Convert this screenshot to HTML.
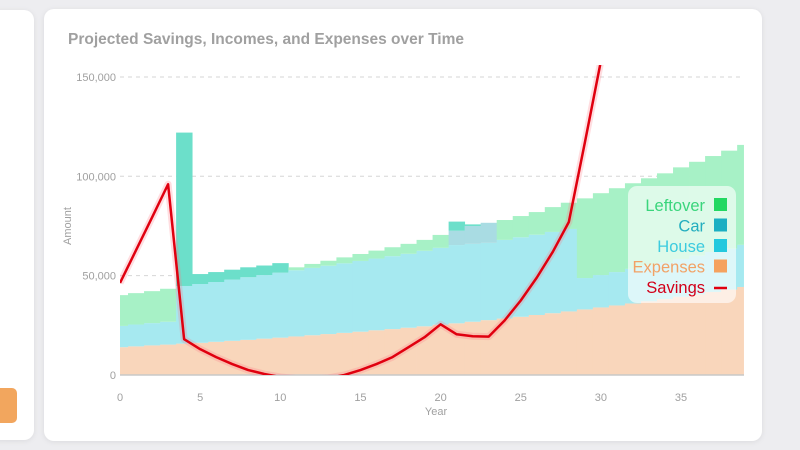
<!DOCTYPE html>
<html><head><meta charset="utf-8"><style>
html,body{margin:0;padding:0;width:800px;height:450px;overflow:hidden;background:#ededf0;font-family:"Liberation Sans",sans-serif;}
.card{position:absolute;background:#fff;border-radius:10px;box-shadow:0 1px 6px rgba(0,0,0,0.08);}
</style></head><body>
<div class="card" style="left:-10px;top:10px;width:44px;height:430px;"></div>
<div style="position:absolute;left:-6px;top:388px;width:23px;height:35px;background:#f2a65e;border-radius:5px;"></div>
<div class="card" style="left:44px;top:9px;width:718px;height:432px;"></div>
<svg id="chart" width="800" height="450" style="position:absolute;left:0;top:0;"></svg>
<script>
const years = [];
for (let i = 0; i <= 39; i++) years.push(i);
const expenses = [14,14.4,14.9,15.3,15.8,16.2,16.7,17.2,17.7,18.3,18.8,19.4,20,20.6,21.2,21.8,22.5,23.1,23.8,24.5,25.3,26,26.8,27.6,28.4,29.3,30.2,31.1,32,33,34,35,36,37.1,38.2,39.4,40.5,41.8,43,44.3];
const house = [10.7,11,11.2,11.5,29,29.6,30.1,30.8,31.5,32,32.7,33.3,33.9,34.4,35,35.6,36.1,36.7,37.2,38,38.7,39.4,39.2,38.9,39.6,40,40.4,40.9,41.5,15.8,16.3,16.8,17.4,17.9,18.4,19,19.5,20.1,20.6,21.2];
const carLoan = [0,0,0,0,0,0,0,0,0,0,0,0,0,0,0,0,0,0,0,0,0,7.2,9,10.1,0,0,0,0,0,0,0,0,0,0,0,0,0,0,0,0];
const car = [0,0,0,0,77.2,5,5,5,5,4.8,4.8,0,0,0,0,0,0,0,0,0,0,4.6,0.8,0,0,0,0,0,0,0,0,0,0,0,0,0,0,0,0,0];
const leftover = [15.5,15.8,16.1,16.6,0,0,0,0,0,0,0,1.5,2,2.5,3,3.5,4,4.5,5,5.5,6.5,0,0,0,10,10.7,11.4,12.5,13.2,40.1,41.2,42.2,43.1,44,44.9,46.1,47.3,48.3,49.3,50.3];
const savings = [46.3,62.8,79.3,96,18,13,9,5.5,2.5,0.5,-1,-1.8,-2,-1.5,0,2.5,5.5,9,14,19,25.5,20.5,19.5,19.3,27.5,37.5,49,62,77,117,158,205];
const yTicks = [0,50000,100000,150000];
const yTickLabels = ["0","50,000","100,000","150,000"];
const xTicks = [0,5,10,15,20,25,30,35];

const NS = "http://www.w3.org/2000/svg";
const svg = document.getElementById('chart');
const L = 120, R = 744, T = 65, B = 375, XMAX = 38.9;
const xs = v => L + v * 16.03;
const ys = v => 375 - v * 1.987; // v in thousands
function mk(tag, attrs, parent) {
  const e = document.createElementNS(NS, tag);
  for (const k in attrs) e.setAttribute(k, attrs[k]);
  (parent || svg).appendChild(e);
  return e;
}
const defs = mk('defs', {});
const cp = mk('clipPath', {id: 'plot'}, defs);
mk('rect', {x: L, y: T, width: R - L, height: B - T}, cp);

// title
let t = mk('text', {x: 68, y: 44, 'font-size': 15.5, 'font-weight': 'bold', fill: '#a0a0a0'});
t.textContent = 'Projected Savings, Incomes, and Expenses over Time';



// grid + y ticks
yTicks.forEach((v, i) => {
  const y = ys(v / 1000);
  if (v > 0) {
    const g = mk('line', {x1: L, x2: R, y1: y, y2: y, stroke: '#d6d6d6', 'stroke-dasharray': '4,4', 'stroke-width': 1});
    
    
  }
  const lb = mk('text', {x: 116, y: y + 4, 'font-size': 11, fill: '#a0a0a0', 'text-anchor': 'end'});
  lb.textContent = yTickLabels[i];
  
  
});

// bars
const gBars = mk('g', {'clip-path': 'url(#plot)'});
const series = [[expenses, '#f9d6bb', 'expenses'], [house, '#a6e9f0', 'house'], [carLoan, '#a9dce3', 'car-loan'], [car, '#6cdfca', 'car'], [leftover, '#a7f1c6', 'leftover']];
years.forEach((yr, i) => {
  let base = 0;
  const x0 = Math.max(0, yr - 0.5), x1 = Math.min(XMAX, yr + 0.5);
  series.forEach(([arr, col, nm]) => {
    const v = arr[i];
    if (v > 0) {
      const r = mk('rect', {x: xs(x0), y: ys(base + v), width: xs(x1) - xs(x0) + 0.4, height: ys(base) - ys(base + v), fill: col}, gBars);
      
      
    }
    base += v;
  });
});

// axis line
const ax = mk('line', {x1: L, x2: R, y1: B, y2: B, stroke: '#c8c8c8', 'stroke-width': 1.5});



xTicks.forEach(v => {
  const lb = mk('text', {x: xs(v), y: 401, 'font-size': 11, fill: '#a0a0a0', 'text-anchor': 'middle'});
  lb.textContent = String(v);
  
  
});
t = mk('text', {x: 436, y: 415, 'font-size': 11, fill: '#a0a0a0', 'text-anchor': 'middle'});
t.textContent = 'Year';


t = mk('text', {x: 71, y: 226, 'font-size': 11, fill: '#a0a0a0', 'text-anchor': 'middle', transform: 'rotate(-90 71 226)'});
t.textContent = 'Amount';



// savings line
const pts = savings.map((v, i) => xs(i) + ',' + ys(v)).join(' ');
const gLine = mk('g', {'clip-path': 'url(#plot)'});
const halo = mk('polyline', {points: pts, fill: 'none', stroke: 'rgba(255,120,130,0.25)', 'stroke-width': 7, 'stroke-linejoin': 'round'}, gLine);


const ln = mk('polyline', {points: pts, fill: 'none', stroke: '#e0000f', 'stroke-width': 2.5, 'stroke-linejoin': 'round'}, gLine);



// legend
const lg = mk('g', {});


mk('rect', {x: 628, y: 186, width: 108, height: 117, rx: 9, fill: 'rgba(255,255,255,0.62)'}, lg);
const legNames = ['Leftover', 'Car', 'House', 'Expenses', 'Savings'];
const legText = ['#3ad57c', '#23aebf', '#3ccbdf', '#f2a266', '#d3001a'];
const legSw = ['#22d862', '#1aafc2', '#22c9de', '#f5a25e', '#e0000f'];
legNames.forEach((n, i) => {
  const y = 211 + i * 20.5;
  const e = mk('text', {x: 705, y: y, 'font-size': 16.5, fill: legText[i], 'text-anchor': 'end'}, lg);
  e.textContent = n;
  
  
  if (i < 4) mk('rect', {x: 714, y: y - 13, width: 13, height: 13, fill: legSw[i]}, lg);
  else mk('line', {x1: 714, x2: 727, y1: y - 5, y2: y - 5, stroke: legSw[i], 'stroke-width': 2.5}, lg);
});
</script>
</body></html>
